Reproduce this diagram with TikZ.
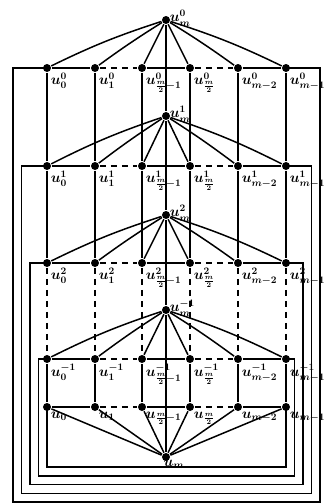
\documentclass[tikz,border=0pt]{standalone}
\usepackage{amsmath,amssymb}
\usetikzlibrary{calc}

\begin{document}
\begin{tikzpicture}[x=1pt, y=-1pt, line width=1.5pt,
	every node/.style={font=\Large\boldmath},
	vtx/.style={circle, fill, inner sep=0pt, minimum size=8pt},
	lbl/.style={anchor=north west, inner sep=0pt},
	gap/.style={dash pattern=on 6pt off 5pt}]
	\useasboundingbox (0,0) rectangle (329,504);
	% the rows of the cycles and their hubs
	\foreach \r/\y in {a/68,b/166,c/263,d/359,e/407}
		\foreach \j/\x in {0/47,1/95,2/142,3/190,4/238,5/286}
			\node[vtx] (v-\r-\j) at (\x,\y) {};
	\foreach \r/\y in {a/20,b/116,c/215,d/310,e/457}
		\node[vtx] (h-\r) at (166,\y) {};
	% each row closed round the outside
	\foreach \r/\y/\k in {a/68/4,b/166/3,c/263/2,d/359/1,e/407/0}{
		\pgfmathsetmacro\xl{47-8.5*\k}
		\pgfmathsetmacro\xr{286+8.5*\k}
		\pgfmathsetmacro\yb{467+8.75*\k}
		\draw (v-\r-0.center) -- (\xl,\y) -- (\xl,\yb) -- (\xr,\yb) -- (\xr,\y) -- (v-\r-5.center);
		\draw (v-\r-0) -- (v-\r-1);
		\draw[gap] (v-\r-1) -- (v-\r-2);
		\draw (v-\r-2) -- (v-\r-3);
		\draw[gap] (v-\r-3) -- (v-\r-4);
		\draw (v-\r-4) -- (v-\r-5);
	}
	% spokes
	\foreach \r in {a,b,c,d}{
		\draw (h-\r) to[bend right=4] (v-\r-0);
		\draw (h-\r) to[bend right=2] (v-\r-1);
		\draw (h-\r) -- (v-\r-2);
		\draw (h-\r) -- (v-\r-3);
		\draw (h-\r) to[bend left=2] (v-\r-4);
		\draw (h-\r) to[bend left=4] (v-\r-5);
	}
	\foreach \j in {0,...,5}
		\draw (h-e) -- (v-e-\j);
	% columns
	\foreach \j in {0,...,5}{
		\draw (v-a-\j) -- (v-b-\j) -- (v-c-\j);
		\draw[gap] (v-c-\j) -- (v-d-\j);
		\draw (v-d-\j) -- (v-e-\j);
	}
	\draw (h-a) -- (h-b) -- (h-c) -- (h-d) -- (h-e);
	% labels
	\foreach \r/\s in {a/0,b/1,c/2,d/-1}{
		\foreach \j/\t in {0/0,1/1,2/\frac m2-1,3/\frac m2,4/m-2,5/m-1}
			\node[lbl] (l-\r-\j) at ($(v-\r-\j)+(3,4)$) {$u^{\s}_{\t}$};
		\node[anchor=west, inner sep=0pt] (m-\r) at ($(h-\r)+(3,-2)$) {$u^{\s}_{m}$};
	}
	\foreach \j/\t in {0/0,1/1,2/\frac m2-1,3/\frac m2,4/m-2,5/m-1}
		\node[lbl] (l-e-\j) at ($(v-e-\j)+(3,4)$) {$u_{\t}$};
	\node[anchor=north, inner sep=0pt] (m-e) at ($(h-e)+(8,2)$) {$u_{m}$};
\end{tikzpicture}
\end{document}
